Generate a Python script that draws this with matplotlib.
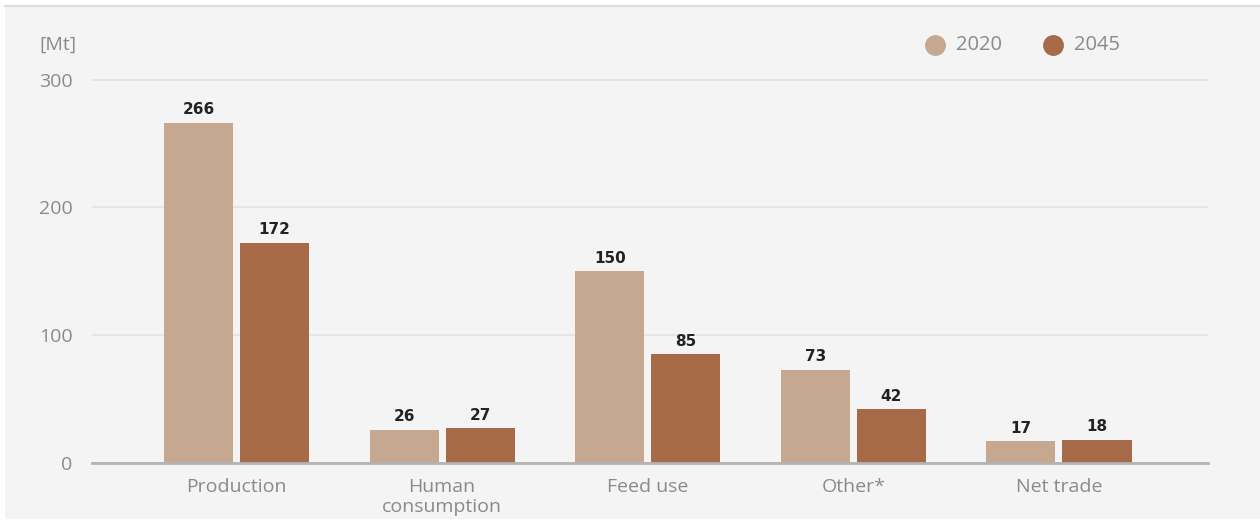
import numpy as np
import matplotlib.pyplot as plt
from matplotlib.patches import Rectangle
from matplotlib.lines import Line2D

categories = ["Production", "Human\nconsumption", "Feed use", "Other*", "Net trade"]
values_2020 = [266, 26, 150, 73, 17]
values_2045 = [172, 27, 85, 42, 18]
series_names = ["2020", "2045"]
colors = ["#c5a88f", "#a66a48"]
yticks = [0, 100, 200, 300]

plt.rcParams["font.family"] = ["Open Sans", "DejaVu Sans"]
GREY = "#8a8a8a"


def main():
    fig = plt.figure(figsize=(12.6, 5.26), dpi=100)
    fig.patch.set_facecolor("white")
    # grey panel behind the chart
    fig.patches.append(Rectangle((5 / 1260, 7 / 526), 1 - 5 / 1260, 1 - 14 / 526,
                                 transform=fig.transFigure, facecolor="#f4f4f4",
                                 edgecolor="none", zorder=-10))
    fig.lines.append(Line2D([5 / 1260, 1], [1 - 6 / 526, 1 - 6 / 526],
                            transform=fig.transFigure, color="#dcdcdc", lw=1.5))

    ax = fig.add_axes([92 / 1260, 63 / 526, 1116 / 1260, 386 / 526])
    ax.set_facecolor("none")

    x = np.arange(len(categories))
    width = 0.336
    offset = 0.185
    for vals, off, col in [(values_2020, -offset, colors[0]), (values_2045, offset, colors[1])]:
        bars = ax.bar(x + off, vals, width, color=col, zorder=3)
        for b, v in zip(bars, vals):
            ax.text(b.get_x() + b.get_width() / 2, v + 4.5, str(v), ha="center", va="bottom",
                    fontsize=11, fontweight="bold", color="#222222", family="DejaVu Sans")

    ax.set_xlim(-0.703, 4.725)
    ax.set_ylim(0, 302)
    ax.set_yticks(yticks)
    ax.set_xticks(x)
    ax.set_xticklabels(categories, fontsize=14, color=GREY, linespacing=1.1, va="top")
    ax.tick_params(axis="y", labelsize=14, labelcolor=GREY, length=0, pad=14)
    ax.tick_params(axis="x", length=0, pad=11)
    ax.grid(axis="y", color="#e3e3e3", lw=1.2, zorder=0)
    for s in ["top", "right", "left"]:
        ax.spines[s].set_visible(False)
    ax.spines["bottom"].set_color("#b3b3b3")
    ax.spines["bottom"].set_linewidth(2)
    ax.spines["bottom"].set_zorder(4)

    fig.text(39 / 1260, 1 - 45 / 526, "[Mt]", fontsize=14, color=GREY, va="center")

    # legend
    for lx, name, col in [(935, series_names[0], colors[0]), (1053, series_names[1], colors[1])]:
        fig.lines.append(Line2D([lx / 1260], [1 - 45 / 526], marker="o", markersize=14,
                                color=col, transform=fig.transFigure, lw=0))
        fig.text((lx + 21) / 1260, 1 - 45 / 526, name, fontsize=14.5, color=GREY, va="center")

    fig.savefig("out.png", dpi=100)


if __name__ == "__main__":
    main()
